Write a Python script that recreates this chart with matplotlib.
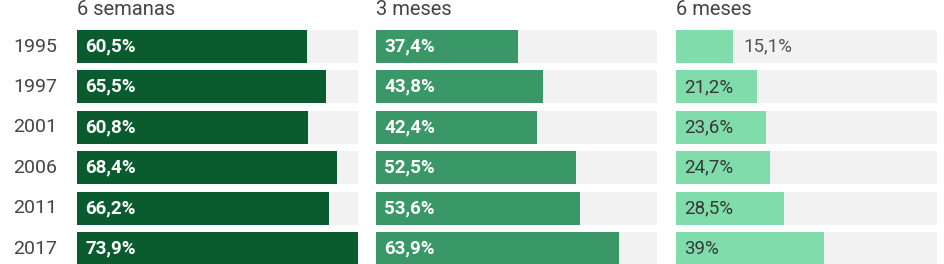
import matplotlib.pyplot as plt

plt.rcParams['font.family'] = ['Roboto', 'DejaVu Sans']

years = ["1995", "1997", "2001", "2006", "2011", "2017"]
titles = ["6 semanas", "3 meses", "6 meses"]
semanas6 = [60.5, 65.5, 60.8, 68.4, 66.2, 73.9]
meses3 = [37.4, 43.8, 42.4, 52.5, 53.6, 63.9]
meses6 = [15.1, 21.2, 23.6, 24.7, 28.5, 39.0]
labels6 = ["15,1%", "21,2%", "23,6%", "24,7%", "28,5%", "39%"]

series = [semanas6, meses3, meses6]
colors = ["#0a5c2e", "#3a9868", "#80dcaa"]
text_colors = ["white", "white", "#383838"]
vmax = max(semanas6)

W, H = 945, 264
fig = plt.figure(figsize=(W / 100, H / 100), dpi=100)

# panel geometry in pixels: left, right
panels = [(77, 358), (376, 657), (676, 937)]
scale = 281  # pixels for vmax
pitch = 40.4
top = 26.3
bottom = top + pitch * len(years)

for k, (vals, (x0, x1)) in enumerate(zip(series, panels)):
    ax = fig.add_axes([x0 / W, 1 - bottom / H, (x1 - x0) / W, (bottom - top) / H])
    xmax = vmax * (x1 - x0) / scale
    px = xmax / (x1 - x0)
    ys = range(len(years))
    ax.barh(ys, [xmax] * len(years), height=0.82, color="#f2f2f2", left=0)
    ax.barh(ys, vals, height=0.82, color=colors[k])
    for i, v in enumerate(vals):
        lab = labels6[i] if k == 2 else f"{v:.1f}%".replace(".", ",")
        if v < 18:
            ax.text(v + 10 * px, i, lab, va="center", ha="left",
                    fontsize=13.5, color="#555555")
        else:
            ax.text(8 * px, i, lab, va="center", ha="left",
                    fontsize=13.5, color=text_colors[k],
                    fontweight="bold" if k < 2 else "normal")
    ax.set_xlim(0, xmax)
    ax.set_ylim(len(years) - 0.5, -0.5)
    ax.axis("off")
    fig.text(x0 / W, 1 - 15 / H, titles[k], fontsize=14.5, color="#444444",
             ha="left", va="baseline")
    if k == 0:
        for i, y in enumerate(years):
            ax.text(-20 * px, i, y, ha="right", va="center",
                    fontsize=14, color="#444444")

fig.savefig("out.png", dpi=100)
